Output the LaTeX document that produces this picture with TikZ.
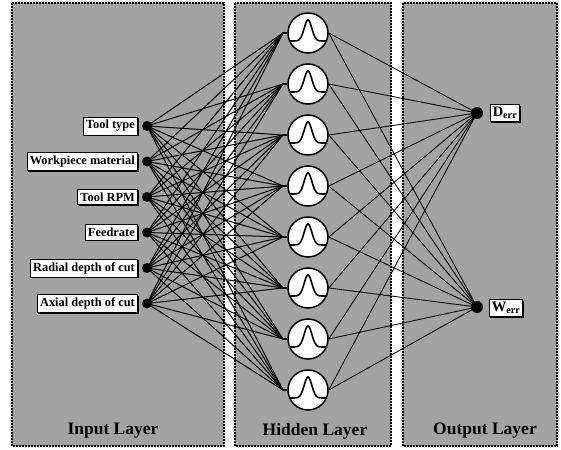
\documentclass[tikz,border=0pt]{standalone}
\usepackage{fontspec}
\setmainfont{Liberation Serif}
\usetikzlibrary{shadows}
\pgfdeclarelayer{bg}
\pgfsetlayers{bg,main}
\begin{document}
\begin{tikzpicture}[x=1pt,y=-1pt,
  panel/.style={fill=black!36, draw=black, line width=1.7pt, dash pattern=on 1.7pt off 1.3pt},
  link/.style={line width=1pt},
  olink/.style={line width=0.85pt},
  inlabel/.style={draw, fill=white, line width=0.8pt, inner xsep=2.8pt, inner ysep=3.4pt,
    font=\bfseries\fontsize{12.4}{13}\selectfont,
    drop shadow={shadow xshift=1.2pt, shadow yshift=-1.2pt, opacity=1, fill=black}},
  hnode/.style={circle, draw, fill=white, line width=1.5pt, minimum size=40pt, inner sep=0pt},
  indot/.style={circle, fill=black, minimum size=10pt, inner sep=0pt},
  outdot/.style={circle, fill=black, minimum size=12pt, inner sep=0pt},
  title/.style={font=\bfseries\fontsize{17.5}{19}\selectfont}]
\useasboundingbox (0,0) rectangle (561,449);

% three layer panels
\begin{pgfonlayer}{bg}
  \draw[panel] (12,3) rectangle (224,446);
  \draw[panel] (235,3) rectangle (391,446);
  \draw[panel] (403,3) rectangle (557,446);
\end{pgfonlayer}

% input neurons with their labels
\foreach \i/\y/\txt in {1/126/Tool type, 2/161.5/Workpiece material, 3/197/Tool RPM,
                        4/232.5/Feedrate, 5/268/Radial depth of cut, 6/303.5/Axial depth of cut}{
  \node[indot] (in\i) at (147,\y) {};
  \node[inlabel, anchor=east] (lab\i) at (138,\y) {\txt};
}

% hidden radial-basis neurons
\foreach \j in {1,...,8}{
  \node[hnode] (h\j) at (308,{33+51*(\j-1)}) {};
  \coordinate (hl\j) at (283,{33+51*(\j-1)});
  \draw[line width=1.6pt] plot[domain=-18.3:18.3, samples=80]
    ({308+\x}, {33+51*(\j-1)+8-21*exp(-(\x/5.4)^2)});
}

% output neurons
\node[outdot] (o1) at (477,113) {};
\node[outdot] (o2) at (477,307) {};
\node[inlabel, font=\bfseries\fontsize{14.5}{15}\selectfont, inner sep=2.6pt] (lo1) at (505,113) {D\textsubscript{err}};
\node[inlabel, font=\bfseries\fontsize{14.5}{15}\selectfont, inner sep=2.6pt] (lo2) at (506,308) {W\textsubscript{err}};

% connections
\begin{pgfonlayer}{bg}
  \foreach \i in {1,...,6}{
    \foreach \j in {1,...,8}{
      \draw[link] (in\i.center) -- (hl\j);
    }
  }
  \foreach \j in {1,...,8}{
    \draw[line width=1.6pt] (hl\j) -- (h\j.west);
    \draw[olink] (h\j.east) -- (o1.center);
    \draw[olink] (h\j.east) -- (o2.center);
  }
\end{pgfonlayer}

% layer titles
\node[title] (t1) at (113,431) {Input Layer};
\node[title] (t2) at (315,431) {Hidden Layer};
\node[title] (t3) at (485,431) {Output Layer};
\end{tikzpicture}
\end{document}
